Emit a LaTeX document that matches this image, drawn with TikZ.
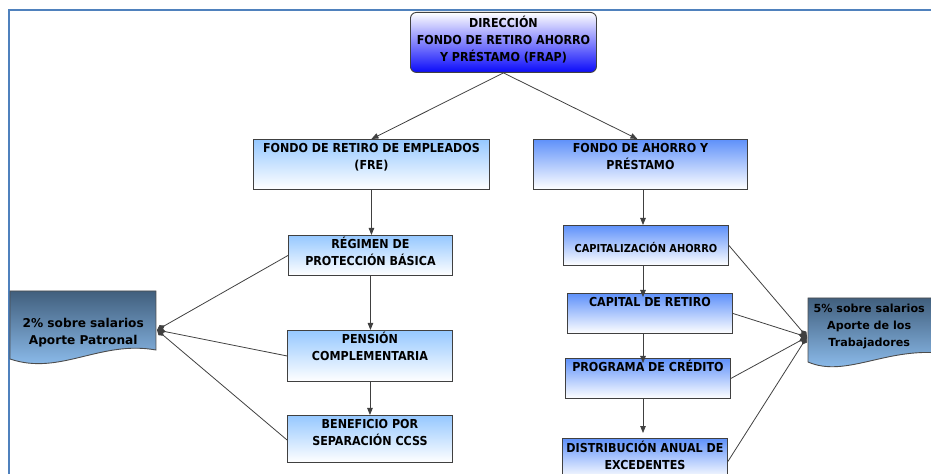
\documentclass[tikz,border=0pt]{standalone}
\usepackage{fontspec}
\setmainfont{DejaVu Sans Condensed}
\newfontfamily\dvs{DejaVu Sans}
\usetikzlibrary{arrows.meta,calc}
\definecolor{frame}{RGB}{79,129,189}
\definecolor{lb}{RGB}{150,200,255}
\definecolor{mb}{RGB}{95,145,250}
\definecolor{vb}{RGB}{10,10,250}
\definecolor{slate}{RGB}{65,95,125}
\definecolor{docb}{RGB}{150,200,250}
\definecolor{ln}{RGB}{64,64,64}
\newcommand\fs{\fontsize{12.4}{17.3}\selectfont}
\newcommand\bt[4]{\parbox[c][#2][t]{#1}{\centering\vspace*{#3}#4\par}}
\tikzset{
  bx/.style={draw=black!75, line width=0.9pt, inner sep=0pt, anchor=north west, font=\bfseries\fs},
  lbox/.style={bx, top color=lb, bottom color=white},
  mbox/.style={bx, top color=mb, bottom color=white},
  txt/.style={inner sep=0pt, anchor=north west},
  conn/.style={draw=ln, line width=0.8pt},
  arr/.style={conn, -{Triangle[length=7bp,width=5.5bp]}},
  dia/.style={conn, -{Diamond[length=9bp,width=6bp]}},
}
\begin{document}
\begin{tikzpicture}[x=1bp,y=-1bp]
\useasboundingbox (0,0) rectangle (931,474);
\clip (0,0) rectangle (931,474);
% frame
\draw[frame, line width=2.2bp] (9,480) -- (9,10) -- (940,10);

% top box
\node[bx, rounded corners=6bp, top color=white, bottom color=vb] (dir) at (410,12)
  {\bt{186bp}{60bp}{3bp}{\strut DIRECCIÓN\\\strut FONDO DE RETIRO AHORRO\\\strut Y PRÉSTAMO (FRAP)}};

% left column
\node[lbox] (fre) at (253,139) {\bt{236bp}{50bp}{1.25bp}{\strut FONDO DE RETIRO DE EMPLEADOS\\\strut (FRE)}};
\node[lbox] (rpb) at (288,235) {\bt{164bp}{40bp}{1.25bp}{\strut RÉGIMEN DE\\\strut PROTECCIÓN BÁSICA}};
\node[lbox] (pen) at (287,330) {\bt{165bp}{51bp}{1.25bp}{\strut PENSIÓN\\\strut COMPLEMENTARIA}};
\node[lbox] (ben) at (287,415) {\bt{165bp}{47bp}{1.25bp}{\strut BENEFICIO POR\\\strut SEPARACIÓN CCSS}};

% right column
\node[mbox] (fap) at (533,139) {\bt{214bp}{50bp}{1.25bp}{\strut FONDO DE AHORRO Y\\\strut PRÉSTAMO}};
\node[mbox] (cah) at (563,225) {\bt{165bp}{40bp}{15.25bp}{\fontsize{11}{17.3}\selectfont\strut CAPITALIZACIÓN AHORRO}};
\node[mbox] (cre) at (567,293) {\bt{165bp}{40bp}{1.25bp}{\strut CAPITAL DE RETIRO}};
\node[mbox] (pcr) at (565,358) {\bt{165bp}{40bp}{1.25bp}{\strut PROGRAMA DE CRÉDITO}};
\node[mbox] (dae) at (562,438) {\bt{165bp}{40bp}{2.25bp}{\strut DISTRIBUCIÓN ANUAL DE\\\strut EXCEDENTES}};

% document shapes
\path[draw=black!70, line width=0.9pt, top color=slate, bottom color=docb]
  (10,291) -- (156,291) -- (156,350) .. controls (100,340) and (60,376) .. (10,359) -- cycle;
\node[txt, font=\dvs\bfseries\fontsize{12.2}{17.3}\selectfont] (ldoc) at (10,291)
  {\bt{146bp}{60bp}{24.25bp}{\strut 2\% sobre salarios\\\strut Aporte Patronal}};
\path[draw=black!70, line width=0.9pt, top color=slate, bottom color=docb]
  (808,298) -- (940,298) -- (940,353) .. controls (885,348) and (845,378) .. (808,362) -- cycle;
\node[txt, font=\dvs\bfseries\fontsize{11.2}{17.3}\selectfont] (rdoc) at (808,298)
  {\bt{122bp}{60bp}{2.25bp}{\strut 5\% sobre salarios\\\strut Aporte de los\\\strut Trabajadores}};

\coordinate (ld) at (157,330);
\coordinate (rd) at (807,337);

% arrows
\draw[arr] (dir.south) -- (fre.north);
\draw[arr] (dir.south) -- ([xshift=-3bp]fap.north);
\draw[arr] (fre.south) -- (fre.south |- rpb.north);
\draw[arr] (rpb.south) -- (rpb.south |- pen.north);
\draw[arr] (pen.south) -- (pen.south |- ben.north);
\coordinate (rx) at (643,0);
\draw[arr] (rx |- fap.south) -- (rx |- cah.north);
\draw[arr] (rx |- cah.south) -- ([yshift=-4bp]rx |- cre.north);
\draw[arr] (rx |- cre.south) -- ([yshift=-5bp]rx |- pcr.north);
\draw[arr] (rx |- pcr.south) -- ([yshift=5bp]rx |- dae.north);

% diamonds
\draw[dia] (rpb.west) -- (ld);
\draw[dia] (pen.west) -- (ld);
\draw[dia] ([yshift=-1bp]ben.west) -- (ld);
\draw[dia] (cah.east) -- (rd);
\draw[dia] (cre.east) -- (rd);
\draw[dia] (pcr.east) -- (rd);
\draw[dia] ([yshift=-3bp]dae.east) -- (rd);
\end{tikzpicture}
\end{document}
